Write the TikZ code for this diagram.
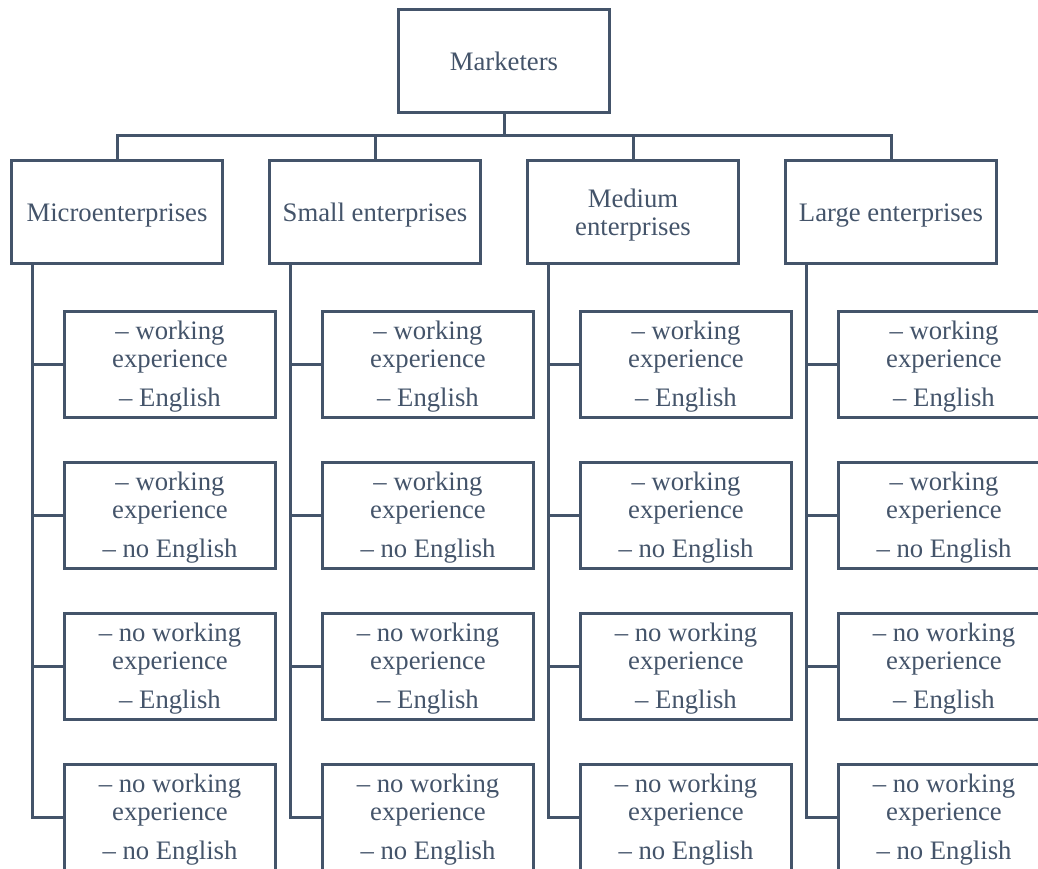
\documentclass[tikz,border=0pt]{standalone}
\usepackage{fontspec}
\setmainfont{Liberation Serif}
\usetikzlibrary{positioning}
\definecolor{ink}{HTML}{44546A}

\newcommand{\up}[1]{\rule{0pt}{#1}}
\newcommand{\WorkEng}{\up{22pt}-- working\\experience\\[11pt]-- English}
\newcommand{\WorkNoEng}{\up{22pt}-- working\\experience\\[11pt]-- no English}
\newcommand{\NoWorkEng}{\up{22pt}-- no working\\experience\\[11pt]-- English}
\newcommand{\NoWorkNoEng}{\up{22pt}-- no working\\experience\\[11pt]-- no English}

\begin{document}
\begin{tikzpicture}[x=1pt, y=1pt, node distance=42pt and 44pt, b/.style={rectangle, draw=ink, text=ink, line width=3pt, minimum width=211pt, minimum height=103pt, inner sep=2pt, align=center, font=\fontsize{26.7}{28}\selectfont}, k/.style={b, minimum height=106pt}, s/.style={draw=ink, line width=3pt}]
		\useasboundingbox (0,0) rectangle (1038,-869);
		\clip (0,0) rectangle (1038,-869);

		\node[b] (Mk) at (504,-61) {Marketers};
		\node[b] (Mi) at (117,-212) {\up{24pt}Microenterprises};
		\node[b, right=of Mi] (S) {\up{24pt}Small enterprises};
		\node[b, right=of S] (Me) {\up{25pt}Medium\\enterprises};
		\node[b, right=of Me] (L) {\up{24pt}Large enterprises};

		\node[k, below=45pt of Mi, xshift=53pt] (Mi1) {\WorkEng};
		\node[k, below=of Mi1] (Mi2) {\WorkNoEng};
		\node[k, below=of Mi2] (Mi3) {\NoWorkEng};
		\node[k, below=of Mi3] (Mi4) {\NoWorkNoEng};
		\node[k, below=45pt of S, xshift=53pt] (S1) {\WorkEng};
		\node[k, below=of S1] (S2) {\WorkNoEng};
		\node[k, below=of S2] (S3) {\NoWorkEng};
		\node[k, below=of S3] (S4) {\NoWorkNoEng};
		\node[k, below=45pt of Me, xshift=53pt] (Me1) {\WorkEng};
		\node[k, below=of Me1] (Me2) {\WorkNoEng};
		\node[k, below=of Me2] (Me3) {\NoWorkEng};
		\node[k, below=of Me3] (Me4) {\NoWorkNoEng};
		\node[k, below=45pt of L, xshift=53pt] (L1) {\WorkEng};
		\node[k, below=of L1] (L2) {\WorkNoEng};
		\node[k, below=of L2] (L3) {\NoWorkEng};
		\node[k, below=of L3] (L4) {\NoWorkNoEng};

		\coordinate (bar) at (504,-136);
		\coordinate (Mi_s) at ([xshift=22pt]Mi.south west);
		\coordinate (S_s) at ([xshift=22pt]S.south west);
		\coordinate (Me_s) at ([xshift=22pt]Me.south west);
		\coordinate (L_s) at ([xshift=22pt]L.south west);

		\draw[s] (Mk.south) -- (bar);
		\draw[s] (bar) -| (Mi.north) (bar) -| (S.north) (bar) -| (Me.north) (bar) -| (L.north);
		\draw[s] (Mi_s) |- (Mi4.west) (Mi_s |- Mi1.west) -- (Mi1.west) (Mi_s |- Mi2.west) -- (Mi2.west) (Mi_s |- Mi3.west) -- (Mi3.west);
		\draw[s] (S_s) |- (S4.west) (S_s |- S1.west) -- (S1.west) (S_s |- S2.west) -- (S2.west) (S_s |- S3.west) -- (S3.west);
		\draw[s] (Me_s) |- (Me4.west) (Me_s |- Me1.west) -- (Me1.west) (Me_s |- Me2.west) -- (Me2.west) (Me_s |- Me3.west) -- (Me3.west);
		\draw[s] (L_s) |- (L4.west) (L_s |- L1.west) -- (L1.west) (L_s |- L2.west) -- (L2.west) (L_s |- L3.west) -- (L3.west);
	\end{tikzpicture}
\end{document}
